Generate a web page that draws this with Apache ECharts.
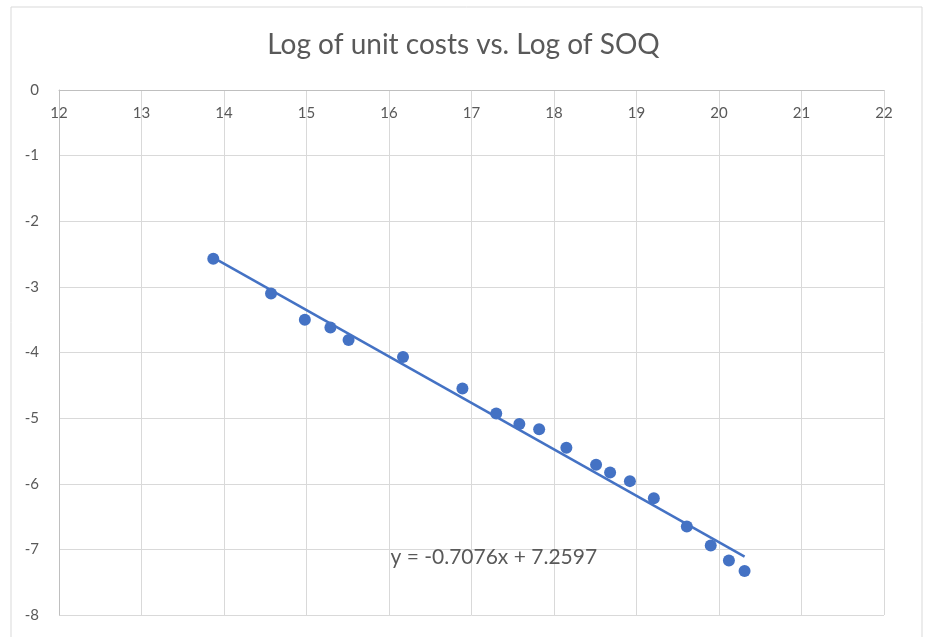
<!DOCTYPE html>
<html>
<head>
<meta charset="utf-8">
<script src="https://cdn.jsdelivr.net/npm/echarts@6/dist/echarts.min.js"></script>
<style>
  html, body { margin: 0; padding: 0; background: #fff; }
  #chart { width: 927px; height: 637px; }
</style>
</head>
<body>
<div id="chart"></div>
<script>
// log of SOQ (x) and log of unit costs (y)
const logSoq = [13.87, 14.57, 14.98, 15.29, 15.51, 16.17, 16.89, 17.30, 17.58, 17.82,
  18.15, 18.51, 18.68, 18.92, 19.21, 19.61, 19.90, 20.12, 20.31]
const logCost = [-2.57, -3.10, -3.50, -3.62, -3.81, -4.07, -4.55, -4.93, -5.09, -5.17,
  -5.45, -5.71, -5.83, -5.96, -6.22, -6.65, -6.94, -7.17, -7.33]
// linear trend as printed on the chart
const slope = -0.7076
const intercept = 7.2597
const trendText = 'y = -0.7076x + 7.2597'

const points = logSoq.map((x, i) => [x, logCost[i]])
const xLo = Math.min(...logSoq)
const xHi = Math.max(...logSoq)
const trend = [[xLo, slope * xLo + intercept], [xHi, slope * xHi + intercept]]

const blue = '#4472c4'
const grey = '#595959'
const font = 'Lato, "Open Sans", sans-serif'

let myChart = echarts.init(document.getElementById('chart'))
let option = {
  backgroundColor: '#fff',
  animation: false,
  title: {
    text: 'Log of unit costs vs. Log of SOQ',
    left: 'center',
    top: 26,
    textStyle: { fontFamily: font, fontSize: 28, fontWeight: 'normal', color: grey }
  },
  graphic: [
    {
      type: 'rect',
      shape: { x: 11, y: 7, width: 911, height: 640 },
      style: { fill: 'none', stroke: '#d9d9d9', lineWidth: 1 },
      silent: true
    }
  ],
  grid: { left: 59, right: 43, top: 90, bottom: 22 },
  xAxis: {
    type: 'value',
    position: 'top',
    min: 12,
    max: 22,
    interval: 1,
    axisLine: { show: true, onZero: false, lineStyle: { color: '#bfbfbf', width: 1 } },
    axisTick: { show: false },
    axisLabel: { inside: true, margin: 16, color: grey, fontFamily: font, fontSize: 15 },
    splitLine: { show: true, lineStyle: { color: '#d9d9d9', width: 1 } }
  },
  yAxis: {
    type: 'value',
    min: -8,
    max: 0,
    interval: 1,
    axisLine: { show: true, lineStyle: { color: '#bfbfbf', width: 1 } },
    axisTick: { show: false },
    axisLabel: { margin: 20, color: grey, fontFamily: font, fontSize: 15 },
    splitLine: { show: true, lineStyle: { color: '#d9d9d9', width: 1 } }
  },
  series: [
    {
      name: 'trend',
      type: 'line',
      data: trend,
      symbol: 'none',
      lineStyle: { color: blue, width: 2.5 },
      z: 2,
      markPoint: {
        symbol: 'circle',
        symbolSize: 0,
        data: [{ coord: [17.27, -7.12] }],
        label: {
          show: true,
          position: 'inside',
          formatter: trendText,
          color: grey,
          fontFamily: font,
          fontSize: 21
        }
      }
    },
    {
      name: 'log',
      type: 'scatter',
      data: points,
      symbol: 'circle',
      symbolSize: 12,
      itemStyle: { color: blue, opacity: 1 },
      z: 3
    }
  ]
}
myChart.setOption(option)
</script>
</body>
</html>
